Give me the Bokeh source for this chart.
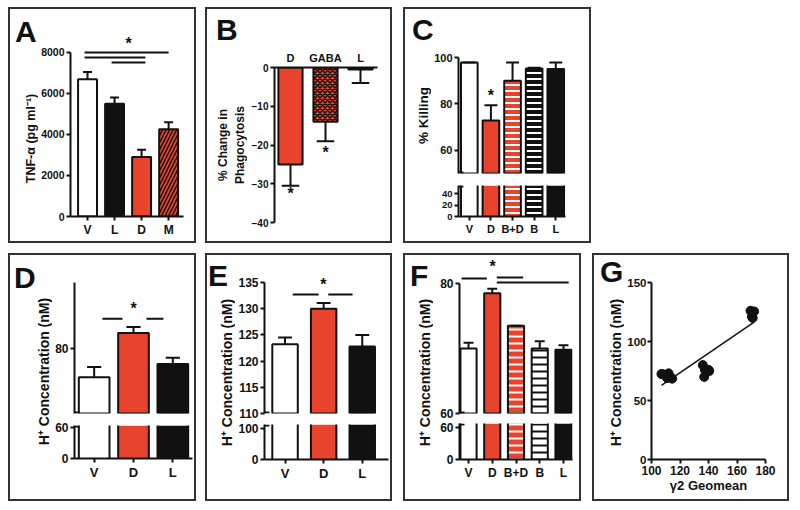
import numpy as np
from bokeh.plotting import figure
from bokeh.models import Range1d, FixedTicker, Label, Row, Column, Spacer, ColumnDataSource, Div
from bokeh.embed import file_html
from bokeh.resources import INLINE

# ---------------- DATA ----------------
a_cats = ["V", "L", "D", "M"]
a_mean = [6700, 5500, 2900, 4250]
a_upper = [7050, 5800, 3250, 4600]
a_ticks = [0, 2000, 4000, 6000, 8000]

b_cats = ["D", "GABA", "L"]
b_mean = [-25, -14, -0.5]
b_lower = [-30.5, -19, -4]
b_ticks = [0, -10, -20, -30, -40]

c_cats = ["V", "D", "B+D", "B", "L"]
c_mean = [97.8, 72.8, 90.0, 95.3, 95.0]
c_upper = [97.8, 79.4, 97.8, 95.6, 97.8]
c_ticks_hi = [60, 80, 100]
c_ticks_lo = [0, 20, 40]

d_cats = ["V", "D", "L"]
d_mean = [71.1, 84.6, 75.1]
d_upper = [74.2, 86.4, 77.0]
d_ticks_hi = [80]
d_ticks_lo = [0, 60]

e_cats = ["V", "D", "L"]
e_mean = [123.2, 130.0, 122.8]
e_upper = [124.5, 131.1, 125.0]
e_ticks_hi = [110, 115, 120, 125, 130, 135]
e_ticks_lo = [0, 100]

f_cats = ["V", "D", "B+D", "B", "L"]
f_mean = [70.0, 78.5, 73.5, 70.0, 69.8]
f_upper = [70.9, 79.2, 73.5, 71.1, 70.5]
f_ticks_hi = [60, 80]
f_ticks_lo = [0, 60]

g_x = [107, 108.5, 110.5, 112, 113, 114.5, 111, 136, 137.5, 140, 137, 140.5, 169.5, 172, 170.5, 171]
g_y = [72.5, 72, 71.5, 73, 70, 68.5, 69, 80, 76, 76, 70, 75, 126, 125.5, 121, 120]
g_xticks = [100, 120, 140, 160, 180]
g_yticks = [0, 50, 100, 150]

# ---------------- STYLE ----------------
FONT = "Liberation Sans"
RED = "#e8432d"
BLACK = "#111111"
WHITE = "#ffffff"
BOX = {"border": "2px solid #333333"}
H_LABEL = "H\u207a Concentration (nM)"


def style_axis(ax, fs="11px"):
    ax.axis_line_width = 2
    ax.axis_line_color = BLACK
    ax.major_tick_line_width = 2
    ax.major_tick_line_color = BLACK
    ax.major_tick_out = 4
    ax.major_tick_in = 0
    ax.minor_tick_line_color = None
    ax.major_label_text_font = FONT
    ax.major_label_text_font_style = "bold"
    ax.major_label_text_font_size = fs
    ax.major_label_text_color = BLACK
    ax.major_label_standoff = 2
    ax.axis_label_text_font = FONT
    ax.axis_label_text_font_style = "bold"
    ax.axis_label_text_color = BLACK


def fig(w, h, xr, yr, mbl, mbr, mbt, mbb, xloc="below", yloc="left"):
    p = figure(width=w, height=h, x_range=xr, y_range=yr, title=None,
               toolbar_location=None, output_backend="svg",
               x_axis_location=xloc, y_axis_location=yloc,
               min_border_left=mbl, min_border_right=mbr,
               min_border_top=mbt, min_border_bottom=mbb)
    p.outline_line_color = None
    p.grid.grid_line_color = None
    p.background_fill_color = WHITE
    p.border_fill_color = WHITE
    for ax in p.axis:
        style_axis(ax)
    return p


def cat_axis(p, cats, fs):
    ax = p.xaxis[0]
    ax.ticker = FixedTicker(ticks=list(range(1, len(cats) + 1)))
    ax.major_label_overrides = {i + 1: c for i, c in enumerate(cats)}
    ax.major_label_text_font_size = fs


def y_ticks(p, ticks, fs, bounds=None):
    ax = p.yaxis[0]
    ax.ticker = FixedTicker(ticks=ticks)
    ax.major_label_text_font_size = fs
    if bounds is not None:
        ax.bounds = bounds


def bars(p, vals, base, width, fills, hatches, hcolors, hscale=6, hweight=2, open_top=False):
    n = len(vals)
    xs = list(range(1, n + 1))
    src = ColumnDataSource(dict(x=xs, top=list(vals), bottom=[base] * n,
                                fill=fills, hp=hatches, hc=hcolors))
    p.vbar(x="x", top="top", bottom="bottom", width=width, source=src,
           fill_color="fill", line_color=None if open_top else BLACK, line_width=2,
           hatch_pattern="hp", hatch_color="hc", hatch_scale=hscale, hatch_weight=hweight)
    if open_top:
        for side in (-1, 1):
            p.segment(x0=[x + side * width / 2 for x in xs], y0=[base] * n,
                      x1=[x + side * width / 2 for x in xs], y1=list(vals),
                      line_color=BLACK, line_width=2)


def errbars(p, vals, ends, capw):
    xs = list(range(1, len(vals) + 1))
    p.segment(x0=xs, y0=vals, x1=xs, y1=ends, line_color=BLACK, line_width=2)
    p.segment(x0=[x - capw / 2 for x in xs], y0=ends, x1=[x + capw / 2 for x in xs], y1=ends,
              line_color=BLACK, line_width=2)


def star(p, x, y, fs="16px"):
    p.add_layout(Label(x=x, y=y, text="*", text_font=FONT, text_font_style="bold",
                       text_font_size=fs, text_color=BLACK, text_align="center",
                       text_baseline="middle"))


def sig(p, x0, x1, y):
    p.segment(x0=x0, y0=y, x1=x1, y1=y, line_color=BLACK, line_width=2)


def axis_break(p, frame_w, frame_h, at_bottom):
    # short stub pointing right from the y axis at a broken end
    xr, yr = p.x_range, p.y_range
    dx = (xr.end - xr.start) * 5.0 / frame_w
    dy = (yr.end - yr.start) * 1.0 / frame_h
    yy = yr.start + dy if at_bottom else yr.end - dy
    p.segment(x0=[xr.start], y0=[yy], x1=[xr.start + dx], y1=[yy], line_color=BLACK, line_width=2)


def letter_div(w, h, text, left, top):
    html = ('<div style="margin:%dpx 0 0 %dpx;font-family:\'%s\',Arial,sans-serif;'
            'font-weight:bold;font-size:30px;line-height:30px;color:%s;white-space:nowrap">%s</div>'
            % (top, left, FONT, BLACK, text))
    return Div(text=html, width=w, height=h, margin=0)


def label_fig(w, h, mbt, mbb, text, fs):
    p = figure(width=w, height=h, x_range=Range1d(0, 1), y_range=Range1d(0, 1), title=None,
               toolbar_location=None, output_backend="svg", x_axis_location=None,
               y_axis_location="left", min_border_left=w - 1, min_border_right=0,
               min_border_top=mbt, min_border_bottom=mbb)
    p.outline_line_color = None
    p.grid.grid_line_color = None
    ax = p.yaxis[0]
    style_axis(ax)
    ax.ticker = FixedTicker(ticks=[])
    ax.axis_line_color = None
    ax.major_tick_out = 0
    ax.major_label_standoff = 0
    ax.axis_label = text
    ax.axis_label_standoff = 0
    ax.axis_label_text_font_size = fs
    return p


# ---------------- PANEL A ----------------
pa = fig(156, 232, Range1d(0.37, 4.55), Range1d(0, 8829), 32, 11, 26, 25)
cat_axis(pa, a_cats, "12px")
y_ticks(pa, a_ticks, "10.5px", bounds=(0, 8000))
bars(pa, a_mean, 0, 0.7, [WHITE, BLACK, RED, RED], [" ", " ", " ", "/"],
     [BLACK, BLACK, BLACK, BLACK], hscale=7, hweight=1.5)
errbars(pa, a_mean, a_upper, 0.33)
sig(pa, [0.89, 0.89, 1.89], [4.0, 3.14, 3.14], [8000, 7756, 7512])
star(pa, 2.52, 8450)
la = label_fig(28, 196, 15, 25, "TNF-\u03b1 (pg ml\u207b\u00b9)", "12.5px")
panel_a = Row(children=[Column(children=[letter_div(28, 36, "A", 5, 8), la]), pa], styles=BOX)

# ---------------- PANEL B ----------------
pb = fig(143, 196, Range1d(0.543, 3.486), Range1d(-40, 0), 27, 13, 22, 19, xloc="above")
cat_axis(pb, b_cats, "11px")
pb.xaxis.major_tick_out = 0
pb.xaxis.major_label_standoff = 4
y_ticks(pb, b_ticks, "10px")
bars(pb, b_mean, 0, 0.69, [RED, RED, BLACK], [" ", "x", " "], [BLACK, BLACK, BLACK],
     hscale=5, hweight=1.5)
errbars(pb, b_mean, b_lower, 0.5)
star(pb, 1, -32.5)
star(pb, 2, -22)
lb = label_fig(40, 196, 22, 19, "% Change in\nPhagocytosis", "12px")
panel_b = Column(children=[letter_div(183, 36, "B", 9, 6), Row(children=[lb, pb])], styles=BOX)

# ---------------- PANEL C ----------------
c_fill = [WHITE, RED, RED, BLACK, BLACK]
c_hatch = [" ", " ", "-", "-", " "]
c_hcol = [BLACK, BLACK, WHITE, WHITE, BLACK]
pc_top = fig(158, 134, Range1d(0.5, 5.45), Range1d(50, 100), 25, 24, 12, 6, xloc=None)
y_ticks(pc_top, c_ticks_hi, "11px")
bars(pc_top, c_mean, 40, 0.77, c_fill, c_hatch, c_hcol, hscale=6)
errbars(pc_top, c_mean, c_upper, 0.6)
star(pc_top, 2, 83.7)
axis_break(pc_top, 109, 116, True)
pc_bot = fig(158, 62, Range1d(0.5, 5.45), Range1d(0, 54), 25, 24, 6, 25)
cat_axis(pc_bot, c_cats, "11px")
y_ticks(pc_bot, c_ticks_lo, "9.5px")
bars(pc_bot, c_mean, 0, 0.77, c_fill, c_hatch, c_hcol, hscale=6, open_top=True)
axis_break(pc_bot, 109, 31, False)
lc = label_fig(26, 196, 12, 68, "% Killing", "13.5px")
panel_c = Column(children=[letter_div(184, 36, "C", 7, 6),
                           Row(children=[lc, Column(children=[pc_top, pc_bot])])], styles=BOX)

# ---------------- PANEL D ----------------
d_fill = [WHITE, RED, BLACK]
d_hatch = [" ", " ", " "]
d_hcol = [BLACK, BLACK, BLACK]
pd_top = fig(142, 164, Range1d(0.5, 3.5), Range1d(60, 100), 22, 2, 27, 6, xloc=None)
y_ticks(pd_top, d_ticks_hi, "12px")
bars(pd_top, d_mean, 50, 0.78, d_fill, d_hatch, d_hcol)
errbars(pd_top, d_mean, d_upper, 0.36)
sig(pd_top, [1.21, 2.33], [1.72, 2.76], [88.9, 88.9])
star(pd_top, 2.0, 92.2)
axis_break(pd_top, 118, 131, True)
pd_bot = fig(142, 80, Range1d(0.5, 3.5), Range1d(0, 64), 22, 2, 6, 41)
cat_axis(pd_bot, d_cats, "13px")
y_ticks(pd_bot, d_ticks_lo, "12px")
bars(pd_bot, d_mean, 0, 0.78, d_fill, d_hatch, d_hcol, open_top=True)
axis_break(pd_bot, 118, 33, False)
ld = label_fig(42, 208, 0, 48, H_LABEL, "14px")
panel_d = Row(children=[Column(children=[letter_div(42, 36, "D", 4, 8), ld]),
                        Column(children=[pd_top, pd_bot])], styles=BOX)

# ---------------- PANEL E ----------------
pe_top = fig(155, 165, Range1d(0.468, 3.68), Range1d(110, 136.9), 28, 2, 17, 7, xloc=None)
y_ticks(pe_top, e_ticks_hi, "12px", bounds=(110, 135))
bars(pe_top, e_mean, 100, 0.66, d_fill, d_hatch, d_hcol)
errbars(pe_top, e_mean, e_upper, 0.36)
sig(pe_top, [1.2, 2.12], [1.87, 2.75], [132.7, 132.7])
star(pe_top, 1.99, 134.6)
axis_break(pe_top, 125, 141, True)
pe_bot = fig(155, 79, Range1d(0.468, 3.68), Range1d(0, 113), 28, 2, 4, 40)
cat_axis(pe_bot, e_cats, "13px")
y_ticks(pe_bot, e_ticks_lo, "12px")
bars(pe_bot, e_mean, 0, 0.66, d_fill, d_hatch, d_hcol, open_top=True)
axis_break(pe_bot, 125, 35, False)
le = label_fig(28, 210, 0, 44, H_LABEL, "14px")
panel_e = Row(children=[Column(children=[letter_div(28, 34, "E", 1, 6), le]),
                        Column(children=[pe_top, pe_bot])], styles=BOX)

# ---------------- PANEL F ----------------
f_fill = [WHITE, RED, RED, WHITE, BLACK]
f_hatch = [" ", " ", "-", "-", " "]
f_hcol = [BLACK, BLACK, WHITE, BLACK, BLACK]
pf_top = fig(146, 165, Range1d(0.62, 5.38), Range1d(60, 83.85), 26, 7, 3, 7, xloc=None)
y_ticks(pf_top, f_ticks_hi, "12px", bounds=(60, 80))
bars(pf_top, f_mean, 50, 0.68, f_fill, f_hatch, f_hcol, hscale=7)
errbars(pf_top, f_mean, f_upper, 0.42)
sig(pf_top, [0.71, 2.19, 2.19], [1.77, 3.30, 5.22], [80.77, 80.92, 80.15])
star(pf_top, 2.02, 82.6)
axis_break(pf_top, 113, 155, True)
pf_bot = fig(146, 79, Range1d(0.62, 5.38), Range1d(0, 67.5), 26, 7, 3, 40)
cat_axis(pf_bot, f_cats, "12px")
y_ticks(pf_bot, f_ticks_lo, "12px")
bars(pf_bot, f_mean, 0, 0.68, f_fill, f_hatch, f_hcol, hscale=7, open_top=True)
axis_break(pf_bot, 113, 36, False)
lf = label_fig(28, 210, 0, 44, H_LABEL, "14px")
panel_f = Row(children=[Column(children=[letter_div(28, 34, "F", 5, 6), lf]),
                        Column(children=[pf_top, pf_bot])], styles=BOX)

# ---------------- PANEL G ----------------
pg = fig(163, 244, Range1d(100, 180), Range1d(0, 150), 24, 22, 27, 40)
pg.xaxis.ticker = FixedTicker(ticks=g_xticks)
pg.yaxis.ticker = FixedTicker(ticks=g_yticks)
pg.xaxis.major_label_text_font_size = "12px"
pg.yaxis.major_label_text_font_size = "11.5px"
pg.yaxis.major_label_standoff = 1
pg.xaxis.axis_label = "\u03b32 Geomean"
pg.xaxis.axis_label_text_font_size = "13px"
pg.xaxis.axis_label_standoff = 0
gx = np.array(g_x)
gy = np.array(g_y)
slope, icpt = np.polyfit(gx, gy, 1)
fx = np.array([gx.min(), gx.max()])
pg.line(fx, slope * fx + icpt, line_color=BLACK, line_width=1.5)
pg.scatter(g_x, g_y, size=9, fill_color=BLACK, line_color=BLACK)
lg = label_fig(30, 214, 0, 40, H_LABEL, "14px")
panel_g = Row(children=[Column(children=[letter_div(30, 30, "G", 6, 2), lg]), pg], styles=BOX)

# ---------------- LAYOUT ----------------
top_row = Row(children=[panel_a, Spacer(width=9), panel_b, Spacer(width=11), panel_c])
bot_row = Row(children=[panel_d, Spacer(width=9), panel_e, Spacer(width=11), panel_f,
                        Spacer(width=11), panel_g])
grid = Column(children=[top_row, Spacer(height=10), bot_row])
layout = Column(children=[Spacer(height=7), Row(children=[Spacer(width=8), grid])])

open("out.html", "w").write(file_html(layout, INLINE))
